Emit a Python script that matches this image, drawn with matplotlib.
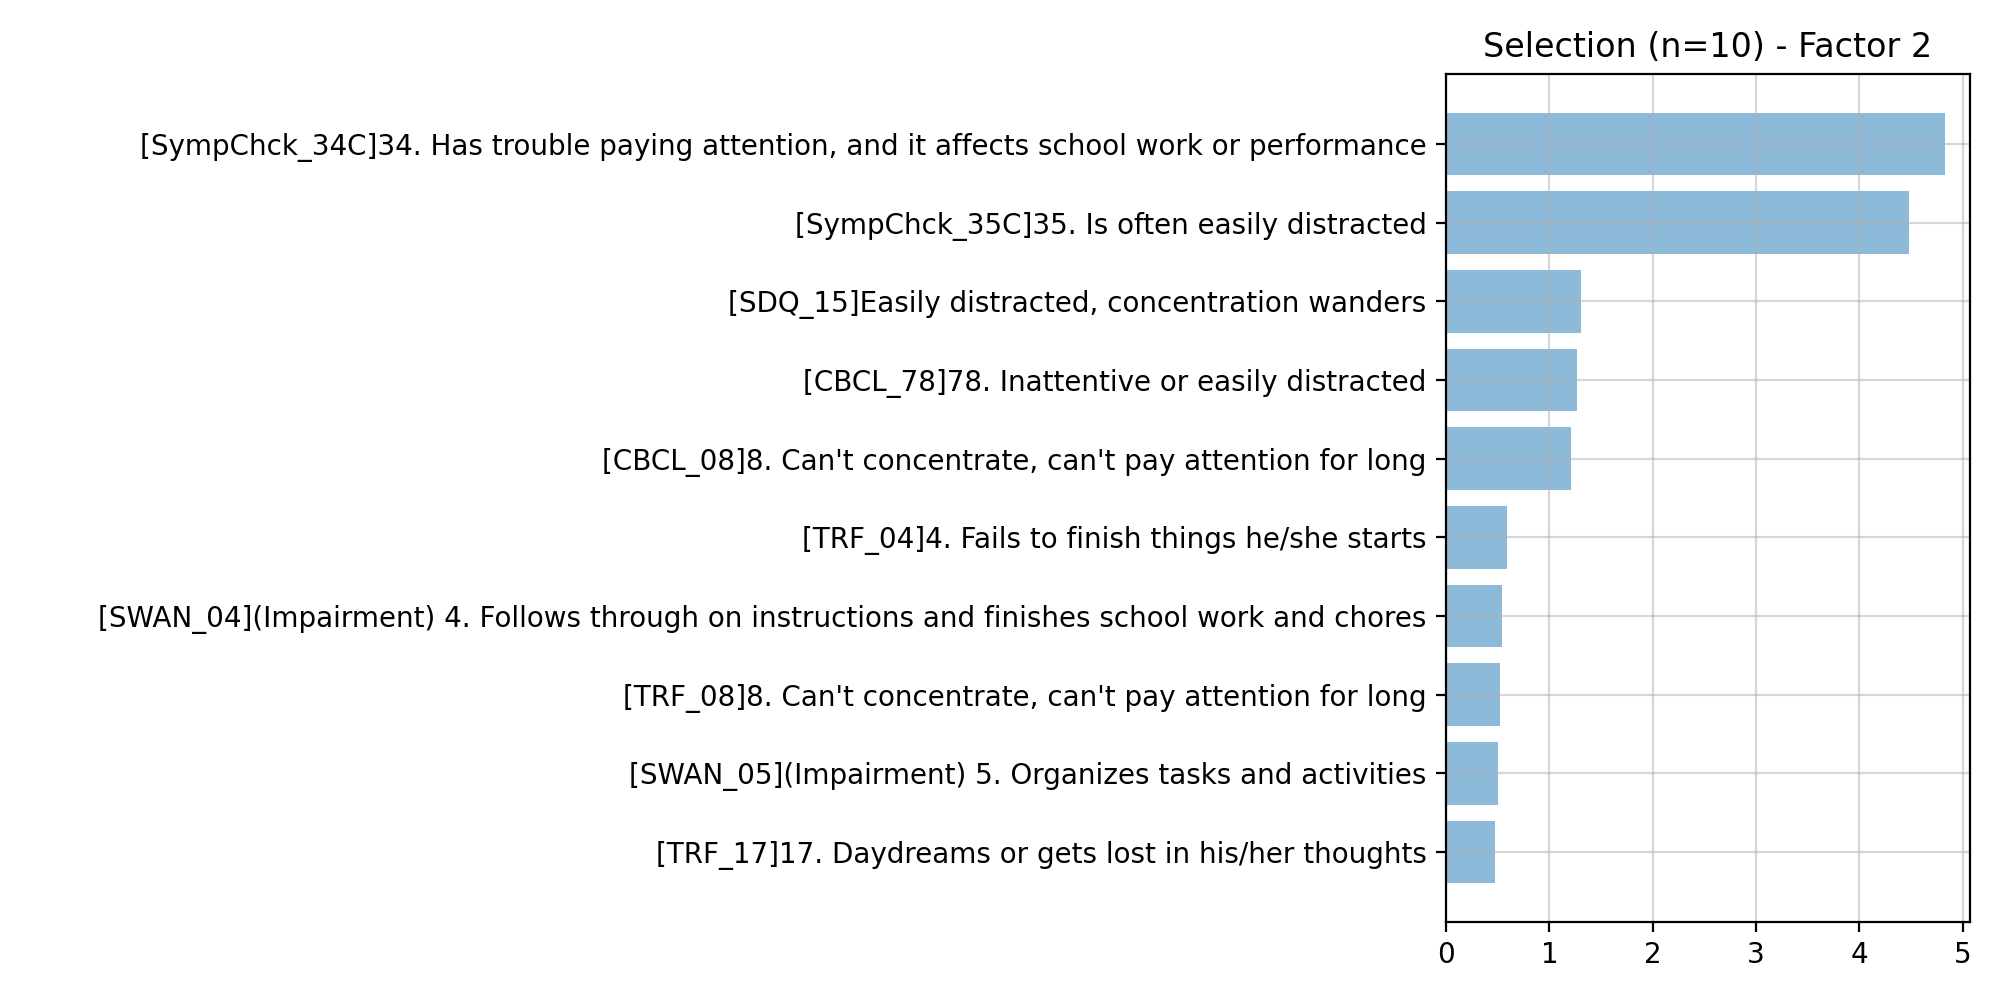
import matplotlib
matplotlib.use("Agg")
import matplotlib.pyplot as plt

labels = [
    "[SympChck_34C]34. Has trouble paying attention, and it affects school work or performance",
    "[SympChck_35C]35. Is often easily distracted",
    "[SDQ_15]Easily distracted, concentration wanders",
    "[CBCL_78]78. Inattentive or easily distracted",
    "[CBCL_08]8. Can't concentrate, can't pay attention for long",
    "[TRF_04]4. Fails to finish things he/she starts",
    "[SWAN_04](Impairment) 4. Follows through on instructions and finishes school work and chores",
    "[TRF_08]8. Can't concentrate, can't pay attention for long",
    "[SWAN_05](Impairment) 5. Organizes tasks and activities",
    "[TRF_17]17. Daydreams or gets lost in his/her thoughts",
]
values = [4.83, 4.48, 1.31, 1.27, 1.21, 0.59, 0.54, 0.52, 0.50, 0.47]

fig, ax = plt.subplots(figsize=(10, 5), dpi=200)
pos = list(range(len(labels)))
ax.barh(pos, values, height=0.8, color="tab:blue", alpha=0.5)
ax.set_yticks(pos)
ax.set_yticklabels(labels)
ax.invert_yaxis()
ax.grid(True, color="#b0b0b0", alpha=0.5)
ax.set_title("Selection (n=10) - Factor 2")
fig.subplots_adjust(left=0.723, right=0.985, top=0.926, bottom=0.078)
fig.savefig("out.png")
